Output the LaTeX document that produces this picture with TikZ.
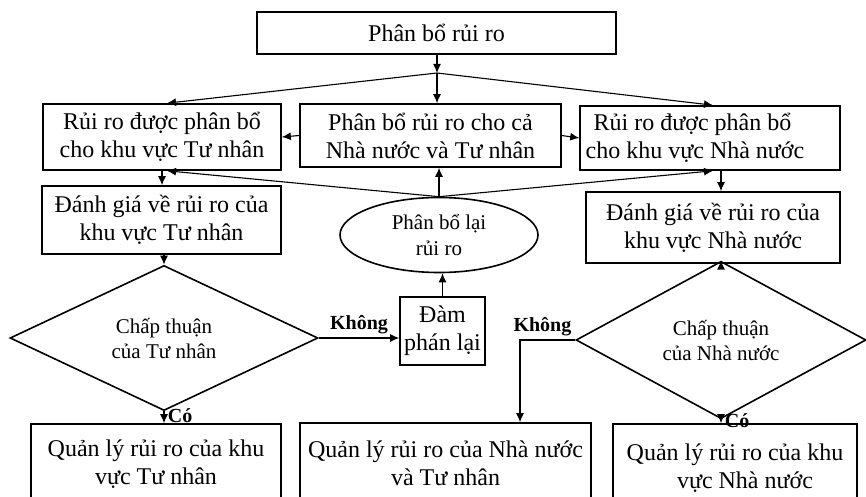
\documentclass[tikz,border=0pt]{standalone}
\usepackage{fontspec}
\setmainfont{Liberation Serif}
\usetikzlibrary{arrows.meta}
\usetikzlibrary{shapes.geometric}

\begin{document}
\begin{tikzpicture}[
            x=1pt, y=-1pt, font=\fontsize{24}{28}\selectfont,
            box/.style={draw, line width=1.6pt, rectangle, align=center, inner sep=0pt},
            decision/.style={draw, line width=1.6pt, diamond, inner sep=0pt, align=center, font=\fontsize{21}{25}\selectfont},
            oval/.style={draw, line width=1.6pt, ellipse, inner sep=0pt, align=center, font=\fontsize{21}{26}\selectfont},
            link/.style={-{Latex[length=9pt, width=8pt]}, line width=1.1pt},
            answer/.style={font=\fontsize{20}{24}\selectfont\bfseries},
        ]
            \useasboundingbox (0,0) rectangle (866,497);
            \clip (0,0) rectangle (866,497);

            % --- Cac o phan bo rui ro ---
            \node[box, minimum width=359, minimum height=42] (phanbo) at (436.5,33) {Phân bổ rủi ro};
            \node[box, minimum width=238, minimum height=66] (tunhan) at (162,137) {Rủi ro được phân bổ\\cho khu vực Tư nhân};
            \node[box, minimum width=261, minimum height=63] (cahai) at (430.5,135.5) {Phân bổ rủi ro cho cả\\Nhà nước và Tư nhân};
            \node[box, minimum width=260, minimum height=64, align=left] (nhanuoc) at (710,138) {\hspace*{8pt}Rủi ro được phân bổ\\cho khu vực Nhà nước\hspace*{30pt}};

            % --- Danh gia va phan bo lai ---
            \node[box, minimum width=239, minimum height=68] (dgtn) at (161.5,220) {Đánh giá về rủi ro của\\khu vực Tư nhân};
            \node[box, minimum width=254, minimum height=71] (dgnn) at (713,227.5) {Đánh giá về rủi ro của\\khu vực Nhà nước};
            \node[oval, minimum width=198, minimum height=75] (phanbolai) at (439,235) {Phân bổ lại\\rủi ro};
            \node[box, minimum width=85, minimum height=68] (dam) at (442.5,331) {Đàm\\phán lại};

            % --- Chap thuan ---
            \node[decision, minimum width=308, minimum height=121] (cttn) at (164,338) {Chấp thuận\\của Tư nhân};
            \node[decision, minimum width=290, minimum height=124] (ctnn) at (721,340) {Chấp thuận\\của Nhà nước};

            % --- Quan ly rui ro ---
            \node[box, minimum width=250, minimum height=80] (qltn) at (156,464) {Quản lý rủi ro của khu\\vực Tư nhân};
            \node[box, minimum width=291, minimum height=80] (qlca) at (445.5,463) {Quản lý rủi ro của Nhà nước\\và Tư nhân};
            \node[box, minimum width=244, minimum height=88] (qlnn) at (735,468) {Quản lý rủi ro của khu\\\hspace*{20pt}vực Nhà nước};

            % --- Cac mui ten ---
            \coordinate (tach) at (437,73);
            \draw[link] (phanbo.south -| tach) -- (tach);
            \draw[link] (tach) -- (tach |- cahai.north);
            \draw[link] (tach) -- ([xshift=5pt]tunhan.north);
            \draw[link] (tach) -- ([xshift=3pt]nhanuoc.north);
            \draw[link] (cahai.west) -- (tunhan.east);
            \draw[link] (cahai.east) -- (nhanuoc.west);
            \draw[link] (tunhan.south) -- (tunhan.south |- dgtn.north);
            \draw[link] (ctnn.north |- nhanuoc.south) -- (ctnn.north |- dgnn.north);
            \draw[link] (phanbolai.north) -- (phanbolai.north |- cahai.south);
            \draw[link] (phanbolai.north) -- ([xshift=5pt]tunhan.south);
            \draw[link] (phanbolai.north) -- ([xshift=3pt]nhanuoc.south);
            \draw[link] (dgtn.south -| cttn.north) -- (cttn.north);
            \draw[link] (ctnn.north |- dgnn.south) -- (ctnn.north);
            \draw[link] (cttn.east) -- node[above, answer] {Không} (cttn.east -| dam.west);
            \draw[link] (dam.north) -- (dam.north |- phanbolai.south);
            \draw[link] (cttn.south) -- node[right, answer, pos=0.4] {Có} (cttn.south |- qltn.north);
            \draw[link] (ctnn.west) node[above left, answer] {Không} -| ([xshift=74.5pt]qlca.north);
            \draw[link] (ctnn.south) -- node[right, answer, pos=0.4] {Có} (ctnn.south |- qlnn.north);
        \end{tikzpicture}
\end{document}
